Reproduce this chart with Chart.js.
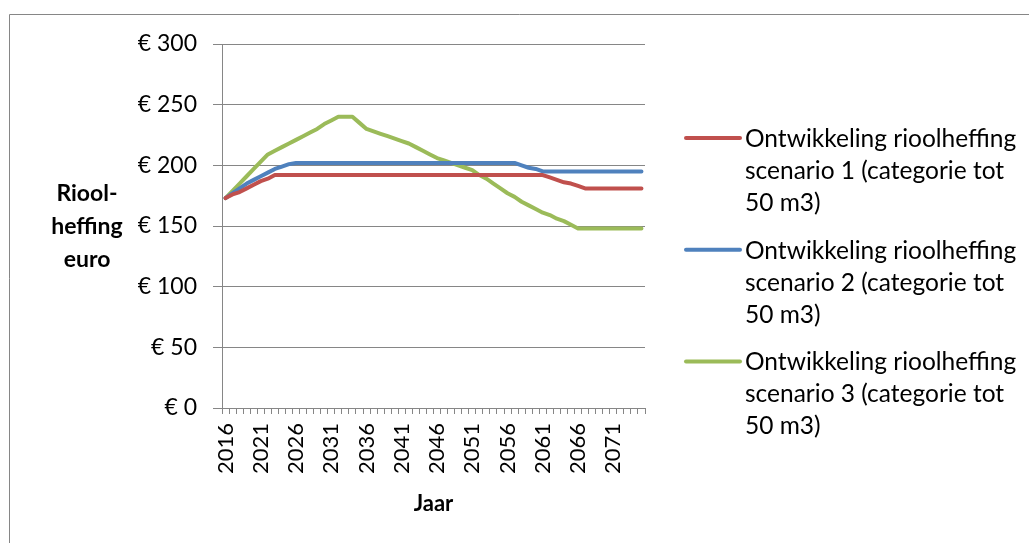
<!DOCTYPE html>
<html>
<head>
<meta charset="utf-8">
<script src="https://cdn.jsdelivr.net/npm/chart.js@4.4.0/dist/chart.umd.min.js"></script>
<style>
  body { margin: 0; background: #fff; }
  canvas { display: block; }
</style>
</head>
<body>
<canvas id="riool" width="1029" height="543"></canvas>
<script>
// categorieen (jaren)
var years = [
  '2016','2017','2018','2019','2020','2021','2022','2023','2024','2025',
  '2026','2027','2028','2029','2030','2031','2032','2033','2034','2035',
  '2036','2037','2038','2039','2040','2041','2042','2043','2044','2045',
  '2046','2047','2048','2049','2050','2051','2052','2053','2054','2055',
  '2056','2057','2058','2059','2060','2061','2062','2063','2064','2065',
  '2066','2067','2068','2069','2070','2071','2072','2073','2074','2075'
];

// scenario 1 (rood)
var scenario1 = [
  173,176,178,181,184,187,189,192,192,192,
  192,192,192,192,192,192,192,192,192,192,
  192,192,192,192,192,192,192,192,192,192,
  192,192,192,192,192,192,192,192,192,192,
  192,192,192,192,192,192,190,188,186,185,
  183,181,181,181,181,181,181,181,181,181
];

// scenario 2 (blauw)
var scenario2 = [
  173,177,181,185,188,191,194,197,199,201,
  202,202,202,202,202,202,202,202,202,202,
  202,202,202,202,202,202,202,202,202,202,
  202,202,202,202,202,202,202,202,202,202,
  202,202,200,198,197,195,195,195,195,195,
  195,195,195,195,195,195,195,195,195,195
];

// scenario 3 (groen)
var scenario3 = [
  173,179,185,191,197,203,209,212,215,218,
  221,224,227,230,234,237,240,240,240,235,
  230,228,226,224,222,220,218,215,212,209,
  206,204,202,200,198,196,192,189,185,181,
  177,174,170,167,164,161,159,156,154,151,
  148,148,148,148,148,148,148,148,148,148
];

var seriesNames = [
  ['Ontwikkeling rioolheffing', 'scenario 1 (categorie tot', '50 m3)'],
  ['Ontwikkeling rioolheffing', 'scenario 2 (categorie tot', '50 m3)'],
  ['Ontwikkeling rioolheffing', 'scenario 3 (categorie tot', '50 m3)']
];
var seriesColors = ['#C0504D', '#4F81BD', '#9BBB59'];

var yTitle = ['Riool-', 'heffing', 'euro'];
var xTitle = 'Jaar';
var yTicks = [0, 50, 100, 150, 200, 250, 300];

var gridColor = '#868686';
var fontName = 'Lato';

// kader, y-as titel en legenda (legenda met tekst over 3 regels)
var extras = {
  id: 'extras',
  afterDraw: function(chart) {
    var ctx = chart.ctx;
    var area = chart.chartArea;
    ctx.save();

    ctx.strokeStyle = gridColor;
    ctx.lineWidth = 1;
    ctx.beginPath();
    ctx.moveTo(9.5, chart.height);
    ctx.lineTo(9.5, 14.5);
    ctx.lineTo(chart.width, 14.5);
    ctx.stroke();

    ctx.fillStyle = '#000';
    ctx.font = 'bold 23px ' + fontName;
    ctx.textAlign = 'center';
    ctx.textBaseline = 'alphabetic';
    for (var i = 0; i < yTitle.length; i++) {
      ctx.fillText(yTitle[i], area.left - 135, 201 + i * 33);
    }

    ctx.font = '24.5px ' + fontName;
    ctx.textAlign = 'left';
    for (var s = 0; s < seriesNames.length; s++) {
      var base = 147 + s * 111.7;
      ctx.strokeStyle = seriesColors[s];
      ctx.lineWidth = 4;
      ctx.lineCap = 'round';
      ctx.beginPath();
      ctx.moveTo(area.right + 41, base - 9);
      ctx.lineTo(area.right + 95, base - 9);
      ctx.stroke();
      for (var l = 0; l < seriesNames[s].length; l++) {
        ctx.fillText(seriesNames[s][l], area.right + 100, base + l * 32);
      }
    }
    ctx.restore();
  }
};

function makeSet(idx, values) {
  return {
    label: seriesNames[idx].join(' '),
    data: values,
    borderColor: seriesColors[idx],
    backgroundColor: seriesColors[idx],
    borderWidth: 4,
    pointRadius: 0,
    tension: 0,
    borderJoinStyle: 'round',
    borderCapStyle: 'round'
  };
}

Chart.defaults.font.family = fontName;
Chart.defaults.color = '#000';

var chart = new Chart(document.getElementById('riool').getContext('2d'), {
  type: 'line',
  data: {
    labels: years,
    datasets: [makeSet(0, scenario1), makeSet(1, scenario2), makeSet(2, scenario3)]
  },
  options: {
    responsive: false,
    animation: false,
    devicePixelRatio: 1,
    layout: { padding: { top: 44, right: 384, bottom: 0, left: 0 } },
    plugins: {
      legend: { display: false },
      tooltip: { enabled: false }
    },
    scales: {
      x: {
        offset: true,
        grid: { offset: true, drawOnChartArea: false, color: gridColor, tickLength: 6 },
        border: { color: gridColor },
        ticks: {
          autoSkip: false,
          maxRotation: 90,
          minRotation: 90,
          padding: 9,
          font: { size: 22 },
          callback: function(value, index) {
            return index % 5 === 0 ? years[index] : '';
          }
        },
        title: {
          display: true,
          text: xTitle,
          font: { size: 22, weight: 'bold' },
          padding: { top: 0, bottom: 26 }
        },
        afterFit: function(scale) { scale.height = 135; }
      },
      y: {
        min: yTicks[0],
        max: yTicks[yTicks.length - 1],
        grid: { color: gridColor, tickLength: 9 },
        border: { color: gridColor },
        ticks: {
          stepSize: 50,
          padding: 16,
          font: { size: 23 },
          callback: function(value) { return '€ ' + value; }
        },
        afterFit: function(scale) { scale.width = 222; }
      }
    }
  },
  plugins: [extras]
});
</script>
</body>
</html>
